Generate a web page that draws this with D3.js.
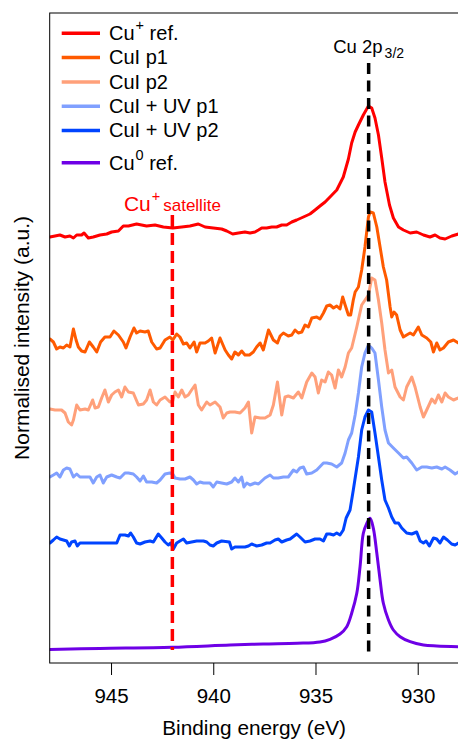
<!DOCTYPE html>
<html><head><meta charset="utf-8">
<script src="https://cdn.jsdelivr.net/npm/d3@7"></script>
<style>html,body{margin:0;padding:0;background:#fff;} svg{display:block;font-family:"Liberation Sans",Arial,Helvetica,sans-serif;}</style>
</head><body><svg id="c" width="458" height="742"></svg>
<script>
// ---- data (binding energy in eV, normalised intensity with vertical offsets) ----
const xTicks = [945, 940, 935, 930];
const seriesLabels = [["Cu", "+", " ref."], ["CuI p1"], ["CuI p2"], ["CuI + UV p1"], ["CuI + UV p2"], ["Cu", "0", " ref."]];
const seriesColors = ["#ff0000", "#ff5a00", "#ffa07a", "#80a0ff", "#0044ff", "#6e00e6"];

const cuPlusRef = [[947.99,4.26],[947.74,4.27],[947.50,4.28],[947.25,4.26],[947.01,4.27],[946.84,4.25],[946.68,4.28],[946.44,4.28],[946.32,4.30],[946.11,4.25],[945.87,4.26],[945.54,4.28],[945.21,4.29],[944.97,4.31],[944.64,4.32],[944.40,4.37],[944.15,4.37],[943.75,4.39],[943.26,4.37],[942.85,4.38],[942.44,4.36],[941.98,4.35],[941.54,4.36],[941.14,4.37],[940.73,4.39],[940.40,4.36],[940.00,4.35],[939.59,4.34],[939.34,4.32],[939.05,4.29],[938.77,4.30],[938.45,4.31],[938.20,4.30],[937.96,4.31],[937.79,4.33],[937.63,4.35],[937.39,4.35],[937.14,4.36],[936.90,4.36],[936.65,4.38],[936.41,4.38],[936.16,4.41],[935.92,4.43],[935.59,4.46],[935.27,4.49],[935.02,4.53],[934.78,4.57],[934.53,4.61],[934.29,4.66],[933.96,4.73],[933.64,4.86],[933.39,5.04],[933.23,5.20],[933.06,5.31],[932.90,5.38],[932.66,5.48],[932.41,5.57],[932.25,5.55],[932.09,5.45],[931.92,5.28],[931.76,5.05],[931.60,4.81],[931.38,4.58],[931.19,4.45],[930.94,4.36],[930.70,4.33],[930.37,4.30],[930.05,4.31],[929.72,4.28],[929.40,4.26],[929.15,4.28],[928.91,4.25],[928.66,4.24],[928.33,4.27],[928.01,4.29]];

const cuIp1 = [[947.99,3.24],[947.82,3.21],[947.66,3.14],[947.50,3.16],[947.33,3.15],[947.17,3.18],[947.01,3.16],[946.84,3.34],[946.71,3.23],[946.60,3.16],[946.44,3.12],[946.27,3.11],[946.06,3.21],[945.87,3.16],[945.70,3.11],[945.51,3.21],[945.30,3.26],[945.05,3.26],[944.86,3.32],[944.64,3.28],[944.40,3.21],[944.27,3.15],[944.07,3.26],[943.88,3.35],[943.75,3.30],[943.58,3.32],[943.34,3.31],[943.18,3.32],[943.01,3.21],[942.77,3.14],[942.60,3.15],[942.36,3.23],[942.12,3.26],[941.98,3.23],[941.79,3.29],[941.63,3.26],[941.46,3.19],[941.30,3.20],[941.14,3.15],[940.94,3.21],[940.81,3.11],[940.65,3.20],[940.40,3.20],[940.24,3.22],[940.08,3.25],[939.91,3.10],[939.67,3.25],[939.42,3.13],[939.26,3.08],[939.10,3.04],[938.94,3.11],[938.77,3.08],[938.61,3.12],[938.45,3.08],[938.23,3.08],[938.04,3.11],[937.88,3.16],[937.71,3.20],[937.55,3.13],[937.30,3.33],[937.06,3.23],[936.86,3.20],[936.73,3.27],[936.57,3.30],[936.33,3.27],[936.16,3.28],[936.00,3.33],[935.84,3.30],[935.67,3.31],[935.51,3.38],[935.35,3.36],[935.18,3.45],[934.94,3.46],[934.78,3.44],[934.61,3.50],[934.45,3.57],[934.29,3.58],[934.12,3.55],[933.96,3.57],[933.80,3.54],[933.67,3.66],[933.55,3.58],[933.39,3.48],[933.28,3.48],[933.15,3.63],[933.06,3.71],[932.90,3.76],[932.74,3.93],[932.58,4.16],[932.41,4.46],[932.33,4.51],[932.17,4.50],[932.00,4.36],[931.84,4.16],[931.68,3.96],[931.52,3.83],[931.35,3.56],[931.27,3.46],[931.16,3.51],[931.03,3.48],[930.86,3.33],[930.70,3.26],[930.54,3.28],[930.37,3.30],[930.21,3.28],[929.97,3.36],[929.80,3.28],[929.56,3.25],[929.36,3.21],[929.23,3.11],[929.07,3.20],[928.91,3.13],[928.74,3.15],[928.50,3.21],[928.25,3.23],[928.01,3.20]];

const cuIp2 = [[947.99,2.54],[947.74,2.53],[947.42,2.53],[947.25,2.50],[947.09,2.41],[946.93,2.38],[946.84,2.43],[946.68,2.58],[946.52,2.53],[946.27,2.54],[946.11,2.53],[945.90,2.63],[945.78,2.55],[945.62,2.56],[945.46,2.65],[945.30,2.73],[945.13,2.61],[944.97,2.68],[944.81,2.71],[944.64,2.73],[944.48,2.66],[944.32,2.76],[944.15,2.71],[943.91,2.70],[943.66,2.58],[943.42,2.59],[943.26,2.63],[943.09,2.73],[942.93,2.61],[942.77,2.58],[942.60,2.63],[942.36,2.66],[942.12,2.61],[941.98,2.62],[941.87,2.71],[941.71,2.66],[941.54,2.73],[941.38,2.66],[941.22,2.68],[941.06,2.73],[940.89,2.78],[940.73,2.58],[940.57,2.53],[940.32,2.61],[940.16,2.58],[939.91,2.61],[939.67,2.56],[939.51,2.45],[939.34,2.50],[939.18,2.51],[938.94,2.51],[938.69,2.50],[938.45,2.55],[938.28,2.61],[938.12,2.30],[937.96,2.46],[937.71,2.45],[937.47,2.45],[937.22,2.48],[937.06,2.58],[936.86,2.81],[936.65,2.48],[936.49,2.66],[936.33,2.67],[936.08,2.65],[935.84,2.71],[935.67,2.65],[935.43,2.81],[935.18,2.90],[935.02,2.86],[934.86,2.70],[934.70,2.83],[934.53,2.81],[934.37,2.91],[934.21,2.88],[934.04,2.75],[933.88,2.93],[933.72,2.86],[933.55,2.96],[933.39,3.10],[933.23,3.15],[932.98,3.36],[932.74,3.58],[932.41,3.68],[932.25,3.85],[932.09,3.83],[931.92,3.63],[931.76,3.40],[931.60,3.13],[931.43,2.90],[931.27,2.93],[931.11,2.76],[930.86,2.66],[930.70,2.63],[930.54,2.76],[930.29,2.86],[930.13,2.76],[929.88,2.56],[929.72,2.46],[929.56,2.53],[929.31,2.64],[929.15,2.60],[928.99,2.68],[928.82,2.61],[928.66,2.70],[928.50,2.66],[928.25,2.63],[928.01,2.65]];

const cuIuvP1 = [[947.99,1.86],[947.82,1.88],[947.66,1.90],[947.50,1.86],[947.33,1.93],[947.17,1.95],[947.01,1.94],[946.84,1.86],[946.68,1.89],[946.52,1.86],[946.27,1.86],[946.03,1.86],[945.87,1.80],[945.70,1.86],[945.54,1.88],[945.38,1.80],[945.21,1.86],[944.97,1.88],[944.72,1.86],[944.56,1.85],[944.32,1.90],[944.15,1.90],[943.91,1.89],[943.75,1.86],[943.58,1.82],[943.42,1.87],[943.26,1.81],[943.01,1.81],[942.77,1.80],[942.60,1.83],[942.36,1.89],[942.12,1.90],[941.98,1.89],[941.87,1.85],[941.63,1.84],[941.38,1.84],[941.14,1.86],[940.97,1.83],[940.81,1.79],[940.65,1.81],[940.48,1.80],[940.32,1.80],[940.16,1.80],[940.00,1.76],[939.83,1.81],[939.59,1.80],[939.34,1.79],[939.10,1.81],[938.94,1.85],[938.77,1.81],[938.61,1.86],[938.50,1.76],[938.36,1.80],[938.20,1.78],[937.96,1.80],[937.79,1.79],[937.63,1.82],[937.47,1.85],[937.22,1.88],[937.06,1.85],[936.82,1.85],[936.57,1.86],[936.33,1.86],[936.08,1.93],[935.92,1.91],[935.76,1.95],[935.59,1.96],[935.43,1.89],[935.18,1.90],[934.94,1.93],[934.61,2.00],[934.45,2.00],[934.21,1.99],[933.96,1.96],[933.72,2.00],[933.55,2.10],[933.39,2.23],[933.23,2.30],[933.06,2.48],[932.90,2.70],[932.74,2.96],[932.58,3.10],[932.41,3.18],[932.25,3.15],[932.09,3.10],[931.92,2.83],[931.76,2.56],[931.60,2.33],[931.43,2.20],[931.19,2.15],[930.94,2.10],[930.70,2.05],[930.54,2.06],[930.29,2.00],[930.05,1.93],[929.80,1.96],[929.56,1.96],[929.31,1.95],[929.07,1.96],[928.82,1.94],[928.66,1.96],[928.42,1.93],[928.17,1.89],[928.01,1.91]];

const cuIuvP2 = [[947.99,1.20],[947.82,1.23],[947.66,1.26],[947.50,1.24],[947.33,1.23],[947.17,1.22],[947.04,1.17],[946.93,1.21],[946.76,1.22],[946.65,1.17],[946.52,1.20],[946.19,1.20],[944.72,1.20],[944.56,1.28],[944.32,1.28],[944.15,1.27],[944.04,1.30],[943.91,1.26],[943.75,1.20],[943.58,1.19],[943.34,1.21],[943.09,1.22],[942.93,1.21],[942.69,1.29],[942.52,1.25],[942.36,1.21],[942.20,1.18],[942.08,1.20],[941.95,1.14],[941.79,1.20],[941.63,1.22],[941.46,1.24],[941.30,1.20],[941.06,1.21],[940.81,1.22],[940.48,1.22],[940.32,1.21],[940.16,1.18],[940.00,1.17],[939.83,1.20],[939.59,1.22],[939.21,1.21],[939.10,1.14],[938.94,1.16],[938.69,1.16],[938.45,1.16],[938.28,1.17],[938.12,1.19],[937.88,1.17],[937.63,1.18],[937.39,1.20],[937.22,1.20],[936.98,1.23],[936.82,1.24],[936.65,1.21],[936.41,1.23],[936.24,1.24],[935.92,1.29],[935.76,1.26],[935.51,1.21],[935.27,1.22],[935.02,1.24],[934.78,1.24],[934.61,1.22],[934.45,1.29],[934.29,1.29],[934.12,1.28],[933.96,1.30],[933.80,1.28],[933.64,1.33],[933.50,1.45],[933.31,1.53],[933.15,1.73],[932.90,2.06],[932.74,2.33],[932.58,2.46],[932.41,2.53],[932.25,2.51],[932.09,2.30],[931.92,2.06],[931.76,1.83],[931.60,1.63],[931.43,1.55],[931.27,1.46],[931.11,1.40],[930.94,1.40],[930.78,1.35],[930.54,1.30],[930.29,1.29],[930.05,1.31],[929.88,1.22],[929.72,1.20],[929.59,1.22],[929.43,1.17],[929.23,1.25],[929.07,1.24],[928.91,1.20],[928.74,1.26],[928.55,1.23],[928.34,1.19],[928.17,1.18],[928.01,1.20]];

const cuZeroRef = [[947.99,0.135],[945.54,0.145],[942.02,0.157],[939.18,0.18],[937.56,0.19],[935.90,0.197],[934.78,0.21],[934.29,0.237],[933.80,0.29],[933.47,0.363],[933.23,0.497],[932.98,0.697],[932.82,0.963],[932.66,1.297],[932.49,1.397],[932.33,1.447],[932.17,1.347],[932.00,1.097],[931.84,0.83],[931.68,0.597],[931.43,0.43],[931.19,0.33],[930.86,0.263],[930.37,0.213],[929.72,0.18],[929.07,0.17],[928.03,0.163]];

// reference positions
const peakEnergy = 932.4;      // Cu 2p3/2
const peakLineSpan = [0.05, 6.0];
const satelliteEnergy = 942.0; // Cu+ satellite
const satLineSpan = [0.13, 4.48];

const allSeries = [cuPlusRef, cuIp1, cuIp2, cuIuvP1, cuIuvP2, cuZeroRef];

// ---- drawing ----
const svg = d3.select("#c");
const L = 49.7, R = 458.6, T = 13, B = 663;
const x = d3.scaleLinear().domain([948, 928]).range([L, R]);
const y = d3.scaleLinear().domain([0, 6.5]).range([B, T]);

svg.append("defs").append("clipPath").attr("id", "clip")
  .append("rect").attr("x", L).attr("y", T).attr("width", R - L).attr("height", B - T);

const plot = svg.append("g").attr("clip-path", "url(#clip)");
const line = d3.line().x(d => x(d[0])).y(d => y(d[1]));
const smooth = d3.line().x(d => x(d[0])).y(d => y(d[1])).curve(d3.curveCatmullRom);

allSeries.forEach((s, i) => {
  plot.append("path").datum(s)
    .attr("d", i === 5 ? smooth : line)
    .attr("fill", "none").attr("stroke", seriesColors[i])
    .attr("stroke-width", 3).attr("stroke-linejoin", "round").attr("stroke-linecap", "round");
});

// dashed reference lines
plot.append("line")
  .attr("x1", x(satelliteEnergy)).attr("x2", x(satelliteEnergy))
  .attr("y1", y(satLineSpan[1])).attr("y2", y(satLineSpan[0]))
  .attr("stroke", "#ff0000").attr("stroke-width", 3.5).attr("stroke-dasharray", "12,6");
plot.append("line")
  .attr("x1", x(peakEnergy)).attr("x2", x(peakEnergy))
  .attr("y1", y(peakLineSpan[1])).attr("y2", y(peakLineSpan[0]))
  .attr("stroke", "#000").attr("stroke-width", 3.5).attr("stroke-dasharray", "11,6.5");

// box
svg.append("rect").attr("x", L).attr("y", T).attr("width", R - L).attr("height", B - T)
  .attr("fill", "none").attr("stroke", "#000").attr("stroke-width", 1);

// x axis
const ax = svg.append("g").attr("transform", `translate(0,${B})`)
  .call(d3.axisBottom(x).tickValues(xTicks).tickSize(12).tickFormat(d3.format("d")));
ax.select(".domain").remove();
ax.selectAll(".tick line").attr("stroke", "#000");
ax.selectAll(".tick text").attr("font-size", 20.5).attr("font-family", "Liberation Sans, Arial, sans-serif")
  .attr("fill", "#000").attr("y", 39.5).attr("dy", null);

svg.append("text").attr("x", (L + R) / 2).attr("y", 734.5).attr("text-anchor", "middle")
  .attr("font-size", 20.8).text("Binding energy (eV)");
svg.append("text").attr("transform", `translate(28.5,${(T + B) / 2}) rotate(-90)`)
  .attr("text-anchor", "middle").attr("font-size", 21).text("Normalised intensity (a.u.)");

// annotations
const pk = svg.append("text").attr("x", x(peakEnergy)).attr("y", 53.3).attr("text-anchor", "middle")
  .attr("font-size", 18.5).attr("fill", "#000");
pk.append("tspan").text("Cu 2p");
pk.append("tspan").attr("dx", 2).attr("dy", 4.7).attr("font-size", 14).text("3/2");

const st = svg.append("text").attr("x", x(satelliteEnergy)).attr("y", 211).attr("text-anchor", "middle")
  .attr("fill", "#ff0000").attr("font-size", 21);
st.append("tspan").text("Cu");
st.append("tspan").attr("dx", 1).attr("dy", -10).attr("font-size", 14.5).text("+");
st.append("tspan").attr("dx", 3).attr("dy", 10).attr("font-size", 17).text("satellite");

// legend
const legY = [33.3, 57.6, 81.9, 106.2, 130.5, 162.7];
seriesLabels.forEach((lab, i) => {
  const g = svg.append("g");
  g.append("line").attr("x1", 61.7).attr("x2", 100).attr("y1", legY[i]).attr("y2", legY[i])
    .attr("stroke", seriesColors[i]).attr("stroke-width", 3.5);
  const t = g.append("text").attr("x", 109).attr("y", legY[i] + 6.8).attr("font-size", 20).attr("fill", "#000");
  t.append("tspan").text(lab[0]);
  if (lab.length > 1) {
    t.append("tspan").attr("dx", 1).attr("dy", -10).attr("font-size", 14.5).text(lab[1]);
    t.append("tspan").attr("dy", 10).text(lab[2]);
  }
});
</script></body></html>
